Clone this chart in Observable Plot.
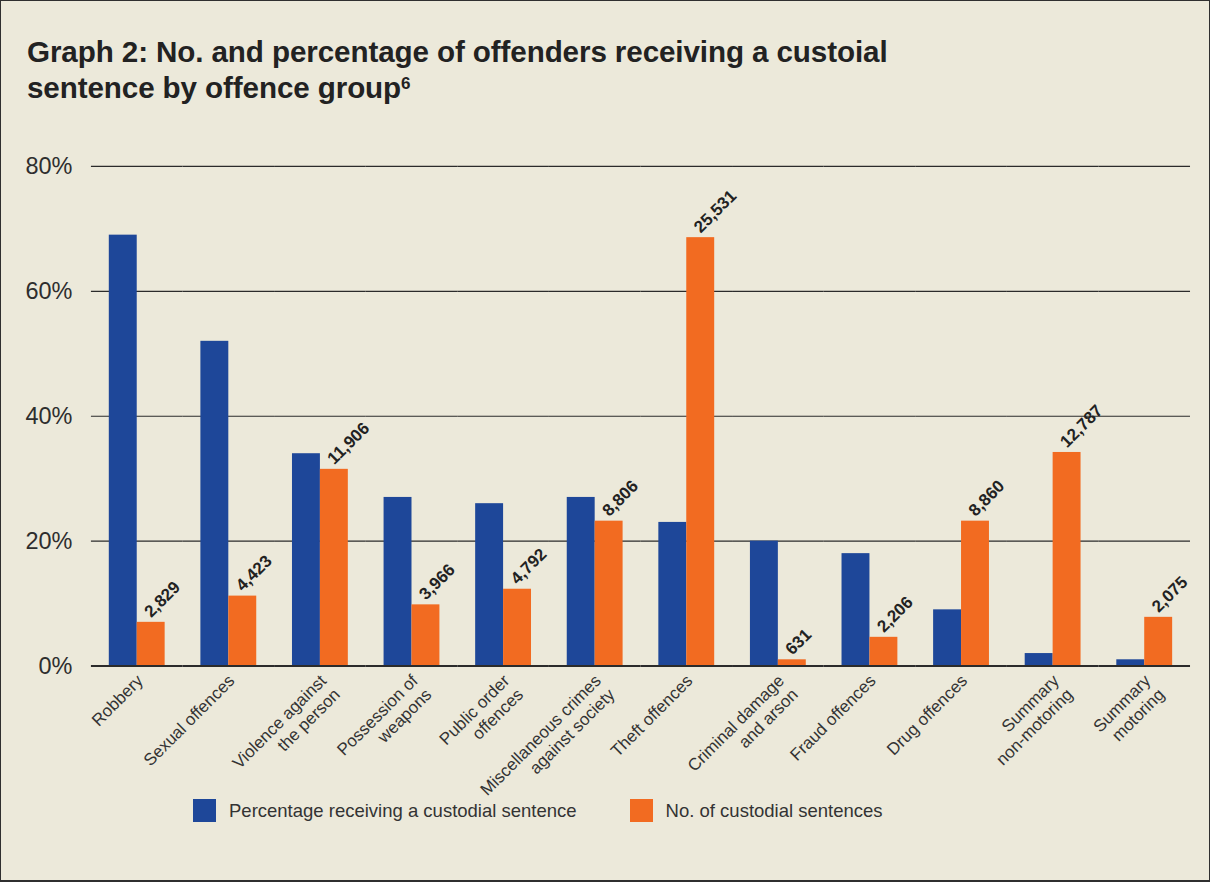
<!DOCTYPE html>
<html><head><meta charset="utf-8">
<script src="https://cdn.jsdelivr.net/npm/d3@7"></script>
<script src="https://cdn.jsdelivr.net/npm/@observablehq/plot@0.6"></script>
<style>
html,body{margin:0;padding:0;background:#ECE9DA;}
#frame{position:relative;width:1208px;height:879px;border:1px solid #2f2f2f;border-bottom-width:2px;background:#ECE9DA;font-family:"Liberation Sans",Arial,sans-serif;overflow:hidden}
#title{position:absolute;left:26px;top:33px;font-weight:bold;font-size:29.6px;line-height:36px;color:#222;letter-spacing:-0.1px}
#title sup{font-size:17px;vertical-align:top;position:relative;top:-4px;}
#chart{position:absolute;left:-1px;top:119px;}
#legend{position:absolute;top:798px;left:192px;display:flex;align-items:center;font-size:18.5px;color:#333;}
.sw{width:23px;height:23px;display:inline-block;margin-right:13px;}
</style></head>
<body>
<div id="frame">
<div id="title">Graph 2: No. and percentage of offenders receiving a custoial<br>sentence by offence group<sup>6</sup></div>
<div id="chart"></div>
<div id="legend"><span class="sw" style="background:#1E4799"></span><span>Percentage receiving a custodial sentence</span><span class="sw" style="background:#F26B21;margin-left:53px"></span><span>No. of custodial sentences</span></div>
</div>
<script>
const categories = ["Robbery","Sexual offences","Violence against\nthe person","Possession of\nweapons","Public order\noffences","Miscellaneous crimes\nagainst society","Theft offences","Criminal damage\nand arson","Fraud offences","Drug offences","Summary\nnon-motoring","Summary\nmotoring"];
const pctCustodial = [69,52,34,27,26,27,23,20,18,9,2,1];
const countBarHeights = [7.0,11.2,31.5,9.8,12.3,23.2,68.6,1.0,4.6,23.2,34.2,7.8];
const countLabels = ["2,829","4,423","11,906","3,966","4,792","8,806","25,531","631","2,206","8,860","12,787","2,075"];
const seriesKeys = ["pct","count"];
const yTicks = [0,20,40,60,80];

const data = categories.flatMap((c,i)=>[
  {cat:c, series:"pct", v:pctCustodial[i]},
  {cat:c, series:"count", v:countBarHeights[i], label:countLabels[i]}
]);
const counts = data.filter(d=>d.series==="count");

const chart = Plot.plot({
  width:1210, height:660,
  marginLeft:91, marginRight:19, marginTop:46, marginBottom:114,
  style:{background:"transparent", fontFamily:"'Liberation Sans', Arial, sans-serif", color:"#333", overflow:"visible"},
  y:{domain:[0,80], label:null},
  fx:{domain:categories, padding:0, round:false, label:null, axis:null},
  x:{domain:seriesKeys, axis:null, round:false, paddingInner:0, paddingOuter:0.64},
  color:{domain:seriesKeys, range:["#1E4799","#F26B21"]},
  marks:[
    Plot.ruleY(yTicks.filter(t=>t>0), {stroke:"#2b2b2b", strokeWidth:1.2}),
    Plot.barY(data, {fx:"cat", x:"series", y:"v", fill:"series"}),
    Plot.ruleY([0], {stroke:"#2b2b2b", strokeWidth:2}),
    Plot.axisY({ticks:yTicks, tickFormat:d=>d+"%", tickSize:0, tickPadding:19, fontSize:23.5, fill:"#2e2e2e", label:null}),
    Plot.text(counts, {fx:"cat", x:"series", y:"v", text:"label", rotate:-45, textAnchor:"start", lineAnchor:"bottom", fontWeight:"bold", fontSize:17, fill:"#222", dx:0, dy:-4}),
    Plot.text(categories, {fx:d=>d, frameAnchor:"bottom", text:d=>d, rotate:-45, textAnchor:"end", lineAnchor:"top", lineHeight:1.15, fontSize:17, fill:"#333", dx:-3, dy:6})
  ]
});
document.getElementById("chart").appendChild(chart);
</script>
</body></html>
